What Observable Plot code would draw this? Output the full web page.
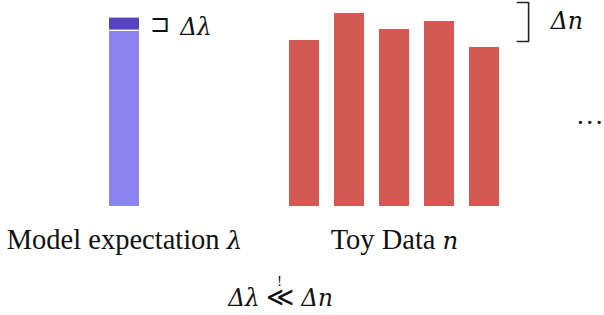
<!DOCTYPE html>
<html>
<head>
<meta charset="utf-8">
<script src="https://cdn.jsdelivr.net/npm/d3@7"></script>
<script src="https://cdn.jsdelivr.net/npm/@observablehq/plot@0.6"></script>
<style>
  html, body { margin: 0; padding: 0; background: #fff; }
  svg { display: block; }
</style>
</head>
<body>
<div id="chart"></div>
<script>
// ---- data ----
const toyCategories = ["n1", "n2", "n3", "n4", "n5"];
const toyValues = [166, 193, 177, 185, 159];
const modelCategory = ["λ"];
const modelValue = [175];
const modelDelta = [12];
const bracketRange = [165, 204];
const labels = ["Model expectation *λ*", "Toy Data *n*"];
const formula = "*Δλ* ≪ *Δn*";

const FONT = "Liberation Serif";
const MATH_FONT = "DejaVu Serif";
const red = "#d45953";
const lightBlue = "#8984f0";
const darkBlue = "#5546c0";

// slot index along the row: model bar at 0, toy bars from 4
const toy = toyCategories.map((c, i) => ({ cat: c, slot: 4 + i, value: toyValues[i] }));
const model = modelCategory.map((c, i) => ({ cat: c, slot: 0, value: modelValue[i], delta: modelDelta[i] }));
const half = 1 / 3;
const lastSlot = toy[toy.length - 1].slot;

const bracket = [
  { x: lastSlot + 0.73, y: bracketRange[1] },
  { x: lastSlot + 0.98, y: bracketRange[1] },
  { x: lastSlot + 0.98, y: bracketRange[0] },
  { x: lastSlot + 0.73, y: bracketRange[0] }
];

const chart = Plot.plot({
  width: 604,
  height: 315,
  margin: 0,
  x: { type: "linear", domain: [-124 / 45, 480 / 45], axis: null },
  y: { type: "linear", domain: [-109, 206], axis: null },
  style: { fontFamily: FONT, background: "#fff" },
  marks: [
    // model expectation bar
    Plot.rectY(model, { x1: d => d.slot - half, x2: d => d.slot + half, y1: 0, y2: "value", fill: lightBlue }),
    Plot.rectY(model, { x1: d => d.slot - half, x2: d => d.slot + half, y1: d => d.value + 1.4, y2: d => d.value + 1.4 + d.delta, fill: darkBlue }),
    Plot.text(model, { x: d => d.slot + 0.78, y: d => d.value + 1.4 + d.delta / 2, text: () => "⊐", fontSize: 24, textAnchor: "middle", lineAnchor: "middle", fill: "#111" }),
    Plot.text(model, { x: d => d.slot + 1.24, y: d => d.value - 3, text: () => "*Δλ*", fontSize: 27, textAnchor: "start", lineAnchor: "bottom", fill: "#111" }),
    // toy data bars
    Plot.rectY(toy, { x1: d => d.slot - half, x2: d => d.slot + half, y1: 0, y2: "value", fill: red }),
    // bracket
    Plot.line(bracket, { x: "x", y: "y", stroke: "#222", strokeWidth: 1.6 }),
    Plot.text([bracketRange], { x: lastSlot + 1.47, y: d => d[1] - 26, text: () => "*Δn*", fontSize: 27.5, textAnchor: "start", lineAnchor: "bottom", fill: "#111" }),
    // ellipsis
    Plot.text(["…"], { x: lastSlot + 2.03, y: 83, text: d => d, fontSize: 28, textAnchor: "start", lineAnchor: "bottom", fill: "#111" }),
    // category labels
    Plot.text([labels[0]], { x: model[0].slot, y: -42, text: d => d, fontSize: 28.5, textAnchor: "middle", lineAnchor: "bottom", fill: "#111" }),
    Plot.text([labels[1]], { x: toy[2].slot, y: -42, text: d => d, fontSize: 28.5, textAnchor: "middle", lineAnchor: "bottom", fill: "#111" }),
    // formula
    Plot.text([formula], { frameAnchor: "bottom", dx: -22, dy: -10, text: d => d, fontSize: 27, fill: "#111" }),
    Plot.text(["!"], { frameAnchor: "bottom", dx: -23, dy: -30, text: d => d, fontSize: 15, fill: "#111" })
  ]
});

// turn *...* into italic math tspans
d3.select(chart).selectAll("text").each(function () {
  const el = this;
  const targets = el.querySelectorAll("tspan").length ? Array.from(el.querySelectorAll("tspan")) : [el];
  targets.forEach(t => {
    const s = t.textContent;
    if (!s.includes("*")) return;
    t.textContent = "";
    s.split("*").forEach((part, i) => {
      if (!part) return;
      const ts = document.createElementNS("http://www.w3.org/2000/svg", "tspan");
      if (i % 2 === 1) {
        ts.setAttribute("font-style", "italic");
        ts.setAttribute("font-family", MATH_FONT);
        ts.setAttribute("font-size", "0.86em");
      }
      ts.textContent = part;
      t.appendChild(ts);
    });
  });
});

document.getElementById("chart").appendChild(chart);
</script>
</body>
</html>
